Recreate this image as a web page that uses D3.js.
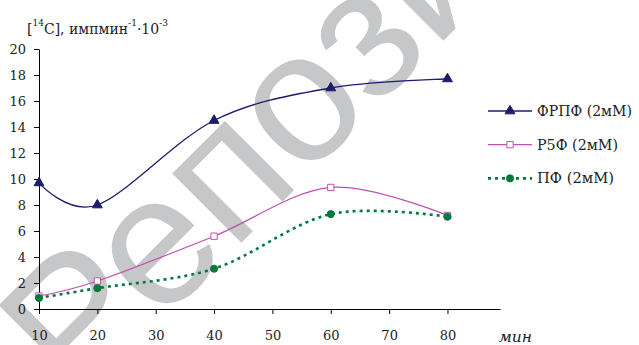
<!DOCTYPE html>
<html>
<head>
<meta charset="utf-8">
<script src="https://cdn.jsdelivr.net/npm/d3@7"></script>
<style>
    body { margin: 0; background: #fff; }
    text { font-family: "DejaVu Serif", serif; fill: #222; }
</style>
</head>
<body>
<div id="chart"></div>
<script>
// Data
const minutes = [10, 20, 40, 60, 80];
const frpf = [9.7, 8.0, 14.5, 17.0, 17.7];
const r5f = [1.0, 2.15, 5.6, 9.35, 7.2];
const pf = [0.85, 1.6, 3.1, 7.3, 7.1];
const xTicks = [10, 20, 30, 40, 50, 60, 70, 80];
const yTicks = [0, 2, 4, 6, 8, 10, 12, 14, 16, 18, 20];
const seriesNames = ["ФРПФ (2мМ)", "Р5Ф (2мМ)", "ПФ (2мМ)"];

const width = 639, height = 345;
const serif = "'DejaVu Serif', serif";

const svg = d3.select("#chart").append("svg")
    .attr("width", width)
    .attr("height", height);

// Watermark behind the chart
svg.append("text")
    .attr("transform", "translate(78,406) rotate(-45)")
    .style("font-family", "'Liberation Sans', Arial, sans-serif")
    .style("font-size", "185px")
    .style("fill", "#c6c7c9")
    .text("Репозиторий");

// Scales
const x = d3.scaleLinear().domain([10, 89]).range([39, 500]);
const y = d3.scaleLinear().domain([0, 20]).range([309, 49]);

// Axes
const yAxis = d3.axisLeft(y).tickValues(yTicks).tickSize(5).tickSizeOuter(0).tickPadding(8);
const xAxis = d3.axisBottom(x).tickValues(xTicks).tickSize(5).tickSizeOuter(0).tickPadding(17);

const gy = svg.append("g").attr("transform", "translate(" + x(10) + ",0)").call(yAxis);
const gx = svg.append("g").attr("transform", "translate(0," + y(0) + ")").call(xAxis);

[gx, gy].forEach(g => {
    g.attr("font-family", null);
    g.selectAll("path, line").attr("stroke", "#000");
    g.selectAll("text")
        .style("font-family", serif)
        .style("font-size", "13px")
        .attr("fill", "#222");
});

// Axis titles
const yTitle = svg.append("text")
    .attr("x", 27)
    .attr("y", 34)
    .style("font-family", serif)
    .style("font-size", "14px");
yTitle.append("tspan").text("[");
yTitle.append("tspan").attr("dy", -8).style("font-size", "9px").text("14");
yTitle.append("tspan").attr("dy", 8).text("C], импмин");
yTitle.append("tspan").attr("dy", -8).style("font-size", "9px").text("-1");
yTitle.append("tspan").attr("dy", 8).text("·10");
yTitle.append("tspan").attr("dy", -8).style("font-size", "9px").text("-3");

svg.append("text")
    .attr("x", 499)
    .attr("y", 342)
    .attr("textLength", 33)
    .attr("lengthAdjust", "spacingAndGlyphs")
    .style("font-family", serif)
    .style("font-size", "15px")
    .style("font-style", "italic")
    .text("мин");

// Series
const series = [
    { name: seriesNames[0], values: frpf, color: "#1c1c6c", width: 1.3, dash: null, symbol: d3.symbolTriangle, size: 42, fill: "#1c1c6c", labelWidth: 95 },
    { name: seriesNames[1], values: r5f, color: "#c050b0", width: 1.2, dash: null, symbol: d3.symbolSquare, size: 40, fill: "#fff", labelWidth: 81 },
    { name: seriesNames[2], values: pf, color: "#007a3c", width: 2.6, dash: "3,4", symbol: d3.symbolCircle, size: 40, fill: "#007a3c", labelWidth: 77 }
];

const line = d3.line()
    .x(d => x(d[0]))
    .y(d => y(d[1]))
    .curve(d3.curveCardinal.tension(0));

series.forEach(s => {
    const pts = minutes.map((m, i) => [m, s.values[i]]);

    svg.append("path")
        .datum(pts)
        .attr("d", line)
        .attr("fill", "none")
        .attr("stroke", s.color)
        .attr("stroke-width", s.width)
        .attr("stroke-dasharray", s.dash);

    svg.selectAll(null)
        .data(pts)
        .join("path")
        .attr("transform", d => "translate(" + x(d[0]) + "," + y(d[1]) + ")")
        .attr("d", d3.symbol(s.symbol, s.size))
        .attr("fill", s.fill)
        .attr("stroke", s.color)
        .attr("stroke-width", 1);
});

// Legend
const legend = svg.append("g").attr("transform", "translate(488,111)");

series.forEach((s, i) => {
    const row = legend.append("g").attr("transform", "translate(0," + (i * 33.7) + ")");
    row.append("line")
        .attr("x1", 0).attr("x2", 44)
        .attr("stroke", s.color)
        .attr("stroke-width", s.width)
        .attr("stroke-dasharray", s.dash);
    row.append("path")
        .attr("transform", "translate(22,0)")
        .attr("d", d3.symbol(s.symbol, s.size))
        .attr("fill", s.fill)
        .attr("stroke", s.color)
        .attr("stroke-width", 1);
    row.append("text")
        .attr("x", 49)
        .attr("y", 5)
        .attr("textLength", s.labelWidth)
        .attr("lengthAdjust", "spacingAndGlyphs")
        .style("font-family", serif)
        .style("font-size", "14px")
        .text(s.name);
});
</script>
</body>
</html>
